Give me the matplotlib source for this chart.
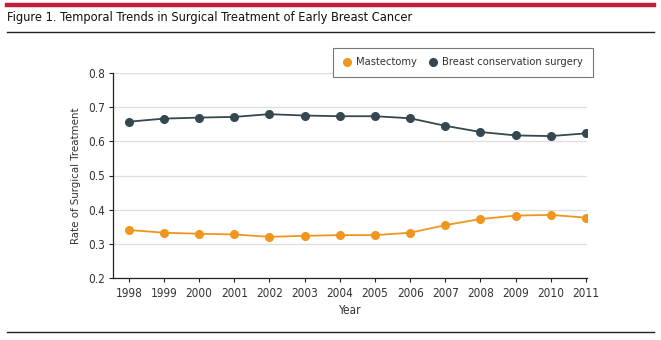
import matplotlib
matplotlib.use("Agg")
import matplotlib.pyplot as plt
from matplotlib.lines import Line2D
from matplotlib import font_manager

years = [1998, 1999, 2000, 2001, 2002, 2003, 2004, 2005, 2006, 2007, 2008, 2009, 2010, 2011]
mastectomy = [0.341, 0.333, 0.330, 0.328, 0.321, 0.324, 0.326, 0.326, 0.333, 0.355, 0.373, 0.383, 0.385, 0.377]
bcs = [0.657, 0.666, 0.669, 0.671, 0.679, 0.675, 0.673, 0.673, 0.667, 0.645, 0.627, 0.617, 0.615, 0.623]
yticks = [0.2, 0.3, 0.4, 0.5, 0.6, 0.7, 0.8]
series_names = ["Mastectomy", "Breast conservation surgery"]
title = "Figure 1. Temporal Trends in Surgical Treatment of Early Breast Cancer"

# pick a narrow font if available
names = {f.name for f in font_manager.fontManager.ttflist}
condensed = [f for f in font_manager.fontManager.ttflist
             if ("Narrow" in f.name or "Condensed" in f.name or str(f.stretch) in ("condensed", "semi-condensed", "extra-condensed"))]
stretch = "normal"
if "Liberation Sans Narrow" in names:
    fam = "Liberation Sans Narrow"
elif condensed:
    fam = condensed[0].name
    stretch = condensed[0].stretch
else:
    fam = "Lato"
plt.rcParams['font.family'] = [fam, 'DejaVu Sans']
plt.rcParams['font.stretch'] = stretch

W, H = 661, 340
fig = plt.figure(figsize=(W / 100, H / 100), dpi=100)

orange = "#F0961E"
slate = "#35484F"
text_col = "#333333"

fig.add_artist(Line2D([7 / W, 654 / W], [1 - 5 / H, 1 - 5 / H], color="#C41E3A", lw=3.2))
fig.add_artist(Line2D([7 / W, 654 / W], [1 - 32 / H, 1 - 32 / H], color="#222222", lw=1.0))
fig.add_artist(Line2D([7 / W, 654 / W], [1 - 331.5 / H, 1 - 331.5 / H], color="#222222", lw=1.0))
fig.text(7 / W, 1 - 18 / H, title, fontsize=9.2, va="center", ha="left", color="#111111")

ax = fig.add_axes([113 / W, 1 - 278.3 / H, (587 - 113) / W, (278.3 - 72.7) / H])
ax.plot(years, mastectomy, color=orange, lw=1.3, marker="o", ms=5.5, mec=orange, label=series_names[0], zorder=3)
ax.plot(years, bcs, color=slate, lw=1.3, marker="o", ms=5.5, mec=slate, label=series_names[1], zorder=3)

ax.set_xlim(1997.55, 2011.03)
ax.set_ylim(0.2, 0.8)
ax.set_yticks(yticks)
ax.set_yticklabels([f"{v:.1f}" for v in yticks])
ax.set_xticks(years)
ax.set_xticklabels([str(y) for y in years])
ax.grid(axis="y", color="#DDDDDD", lw=0.9, zorder=0)
ax.set_axisbelow(True)
for s in ["top", "right"]:
    ax.spines[s].set_visible(False)
for s in ["left", "bottom"]:
    ax.spines[s].set_color("#222222")
    ax.spines[s].set_linewidth(0.9)
ax.tick_params(axis="both", length=3, width=0.8, color="#222222", labelsize=8.5, labelcolor=text_col, pad=3)
ax.set_xlabel("Year", fontsize=8.5, color=text_col, labelpad=3)
ax.set_ylabel("Rate of Surgical Treatment", fontsize=8.2, color=text_col, labelpad=5)

leg = ax.legend(loc="upper left", bbox_to_anchor=((333 - 113) / (587 - 113), 1 + (72.7 - 48) / (278.3 - 72.7)),
                ncol=2, frameon=True, fancybox=False, fontsize=8, handlelength=0.8, handletextpad=0.45,
                columnspacing=1.0, borderpad=0.85, borderaxespad=0)
for h in leg.legend_handles:
    h.set_linestyle("")
leg.get_frame().set_edgecolor("#555555")
leg.get_frame().set_linewidth(0.8)
for t in leg.get_texts():
    t.set_color(text_col)

fig.savefig("out.png", dpi=100, facecolor="white")
